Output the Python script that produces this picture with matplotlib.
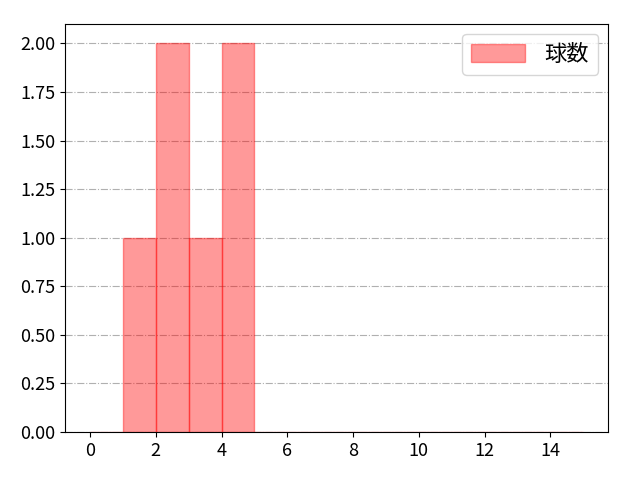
import matplotlib
matplotlib.use("Agg")
import matplotlib.pyplot as plt

plt.rcParams['font.family'] = ['Noto Sans CJK JP', 'DejaVu Sans']

# raw values (one per pitch), binned by 1
pitch_values = [1, 2, 2, 3, 4, 4]
bin_edges = list(range(0, 16))
label = "球数"

fig = plt.figure(figsize=(6.4, 4.8), dpi=100)
ax = fig.add_axes([0.102, 0.1, 0.848, 0.85])

ax.hist(pitch_values, bins=bin_edges, color="red", alpha=0.4,
        edgecolor="red", label=label)

ax.set_xlim(-0.75, 15.75)
ax.set_ylim(0, 2.1)
ax.set_xticks(range(0, 16, 2))
ax.set_yticks([0, 0.25, 0.5, 0.75, 1.0, 1.25, 1.5, 1.75, 2.0])
ax.set_yticklabels([f"{v:.2f}" for v in ax.get_yticks()])
ax.yaxis.grid(True, linestyle="-.", color="#b0b0b0")
ax.set_axisbelow(True)
ax.tick_params(labelsize=13)

ax.legend(loc="upper right", fontsize=16, handlelength=2.4,
          handleheight=0.9, handletextpad=0.9, borderpad=0.4,
          borderaxespad=0.45)

fig.savefig("out.png")
